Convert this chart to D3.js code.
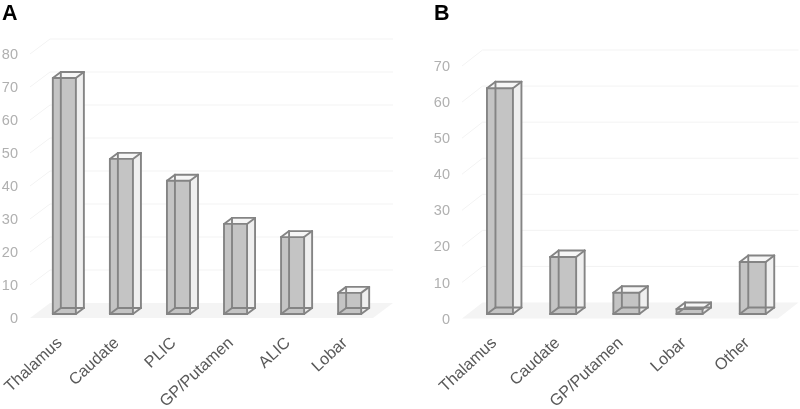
<!DOCTYPE html>
<html><head><meta charset="utf-8">
<script src="https://cdnjs.cloudflare.com/ajax/libs/d3/7.8.5/d3.min.js"></script>
<style>html,body{margin:0;padding:0;background:#fff}svg{display:block;filter:blur(0.35px)}text{font-family:"Liberation Sans",Arial,sans-serif}</style>
</head><body><svg id="c" width="800" height="409"></svg>
<script>
const categoriesA = ["Thalamus","Caudate","PLIC","GP/Putamen","ALIC","Lobar"];
const valuesA = [71.5,47,40.4,27.3,23.3,6.4];
const ticksA = [0,10,20,30,40,50,60,70,80];
const categoriesB = ["Thalamus","Caudate","GP/Putamen","Lobar","Other"];
const valuesB = [62.6,15.8,5.9,1.4,14.4];
const ticksB = [0,10,20,30,40,50,60,70];

const svg = d3.select("#c");
function panel(o){
  const g = svg.append("g");
  const y = d3.scaleLinear().domain(o.domain).range([o.y0,o.y1]);
  const x = d3.scaleBand().domain(o.cats).range([o.xl,o.xr]).paddingInner(o.pi).paddingOuter(o.po).align(0.5);
  const dx = o.backDx, dy = o.backDy;
  g.append("polygon").attr("fill","#f4f4f4")
   .attr("points",[[o.xl,y(0)],[o.xl+dx,y(0)-dy],[o.fr+dx,y(0)-dy],[o.fr,y(0)]].join(" "));
  g.selectAll("path.grid").data(o.ticks.filter(t=>t>0)).join("path").attr("class","grid")
   .attr("fill","none").attr("stroke","#f3f3f3").attr("stroke-width",1)
   .attr("d",t=>d3.line()([[o.xl,y(t)],[o.xl+dx,y(t)-dy],[o.fr+dx,y(t)-dy]]));
  const ax = g.append("g").attr("transform",`translate(${o.xl-12},0)`)
    .call(d3.axisLeft(y).tickValues(o.ticks).tickSize(0).tickPadding(0));
  ax.select(".domain").remove();
  ax.selectAll("text").attr("fill","#b0b0b0").attr("font-size",14.5).attr("font-family",'"Liberation Sans",Arial,sans-serif');
  const w = x.bandwidth(), d1 = o.barDx, d2 = o.barDy, lift = o.lift;
  const bars = g.selectAll("g.bar").data(o.cats.map((c,i)=>({c,v:o.vals[i]}))).join("g").attr("class","bar");
  const line = d3.line();
  bars.each(function(d){
    const b = d3.select(this), l = x(d.c), r = l+w, bot = y(0)-lift, top = y(d.v)-lift;
    b.append("path").attr("fill","#efefef").attr("d",line([[r,top],[r+d1,top-d2],[r+d1,bot-d2],[r,bot]])+"Z");
    b.append("path").attr("fill","#f6f6f6").attr("d",line([[l,top],[l+d1,top-d2],[r+d1,top-d2],[r,top]])+"Z");
    b.append("path").attr("fill","#ececec").attr("d",line([[l,bot],[l+d1,bot-d2],[r+d1,bot-d2],[r,bot]])+"Z");
    b.append("rect").attr("x",l).attr("y",top).attr("width",w).attr("height",bot-top).attr("fill","#c4c4c4");
    const segs=[
      [[l+d1,top-d2],[l+d1,bot-d2]],[[l+d1,bot-d2],[r+d1,bot-d2]],[[l,bot],[l+d1,bot-d2]],
      [[r+d1,top-d2],[r+d1,bot-d2]],[[r,bot],[r+d1,bot-d2]],
      [[l,top],[l+d1,top-d2]],[[l+d1,top-d2],[r+d1,top-d2]],[[r+d1,top-d2],[r,top]],
      [[l,top],[r,top]],[[l,top],[l,bot]],[[r,top],[r,bot]],[[l,bot],[r,bot]]];
    segs.forEach(s=>b.append("path").attr("fill","none").attr("stroke","#848484").attr("stroke-width",1.9).attr("stroke-linecap","round").attr("d",line(s)));
  });
  g.selectAll("text.cat").data(o.cats).join("text").attr("class","cat")
   .attr("text-anchor","end").attr("fill","#595959").attr("font-size",16.3)
   .attr("transform",c=>`translate(${x(c)+w/2+o.labDx},${o.labY}) rotate(-43)`).text(c=>c);
  g.append("text").attr("x",o.letterX).attr("y",19.5).attr("font-size",21.5).attr("font-weight","bold").attr("fill","#000").text(o.letter);
}
panel({cats:categoriesA,vals:valuesA,ticks:ticksA,domain:[0,80],y0:318,y1:54,xl:30,xr:384,fr:373,
  pi:0.596,po:0.4,backDx:20,backDy:15,barDx:8,barDy:6,lift:4,labDx:-1.5,labY:344,letter:"A",letterX:2});
panel({cats:categoriesB,vals:valuesB,ticks:ticksB,domain:[0,70],y0:318.5,y1:66,xl:462,xr:790.7,fr:778,
  pi:0.589,po:0.395,backDx:20.5,backDy:16,barDx:8.5,barDy:6.5,lift:4.5,labDx:-2.5,labY:344,letter:"B",letterX:434});
</script></body></html>
